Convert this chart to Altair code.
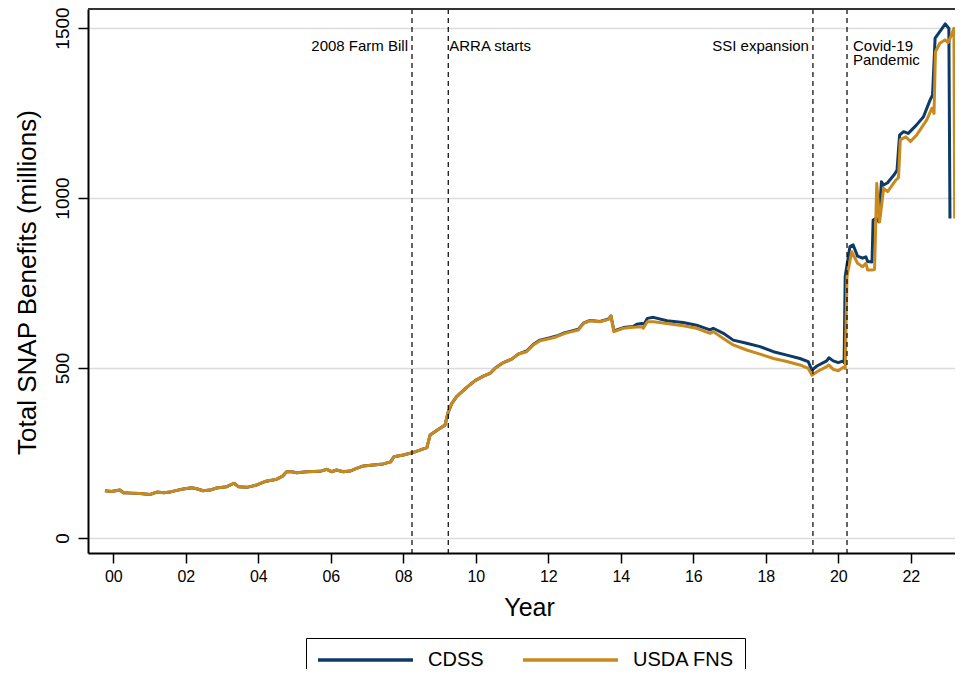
import altair as alt
import pandas as pd

FONT = "Liberation Sans"

# ---- data (year as decimal, SNAP benefits in millions) ----
usda_year = [1999.77, 1999.95, 2000.18, 2000.28, 2000.50, 2000.74, 2001.01, 2001.20, 2001.40, 2001.56,
             2001.75, 2001.93, 2002.16, 2002.30, 2002.48, 2002.67, 2002.85, 2003.13, 2003.33, 2003.45,
             2003.68, 2003.96, 2004.18, 2004.51, 2004.67, 2004.78, 2004.92, 2005.06, 2005.34, 2005.70,
             2005.89, 2006.02, 2006.16, 2006.34, 2006.53, 2006.71, 2006.90, 2007.17, 2007.45, 2007.65,
             2007.74, 2008.00, 2008.28, 2008.65, 2008.74, 2008.97, 2009.15, 2009.24, 2009.34, 2009.47,
             2009.75, 2009.98, 2010.21, 2010.39, 2010.53, 2010.76, 2010.99, 2011.17, 2011.40, 2011.59,
             2011.77, 2012.05, 2012.23, 2012.46, 2012.65, 2012.83, 2012.97, 2013.15, 2013.43, 2013.66,
             2013.73, 2013.81, 2014.07, 2014.34, 2014.58, 2014.62, 2014.73, 2014.90, 2015.27, 2015.72,
             2016.09, 2016.46, 2016.55, 2016.83, 2017.10, 2017.47, 2017.84, 2018.21, 2018.58, 2018.94,
             2019.17, 2019.27, 2019.41, 2019.68, 2019.74, 2019.86, 2020.00, 2020.14, 2020.19, 2020.24,
             2020.37, 2020.53, 2020.67, 2020.76, 2020.81, 2020.93, 2021.00, 2021.06, 2021.14, 2021.25,
             2021.36, 2021.59, 2021.66, 2021.71, 2021.86, 2021.99, 2022.16, 2022.44, 2022.58, 2022.64,
             2022.68, 2022.80, 2022.94, 2023.03, 2023.12, 2023.19, 2023.21]
usda_val = [139, 137, 141, 133, 132, 131, 128, 135, 133, 135,
            140, 144, 148, 145, 139, 141, 147, 151, 161, 151,
            149, 156, 166, 173, 182, 195, 195, 192, 195, 196,
            202, 195, 200, 195, 197, 205, 212, 215, 218, 224,
            239, 244, 252, 266, 303, 320, 332, 371, 396, 416,
            443, 463, 476, 484, 499, 516, 526, 541, 548, 568,
            580, 587, 592, 602, 607, 612, 631, 639, 636, 643,
            653, 607, 617, 620, 621, 617, 636, 636, 631, 624,
            617, 602, 607, 587, 568, 553, 541, 528, 519, 509,
            499, 479, 489, 504, 509, 496, 492, 502, 499, 769,
            842, 808, 798, 808, 788, 788, 790, 1043, 930, 1028,
            1019, 1053, 1060, 1171, 1180, 1166, 1185, 1230, 1264, 1249,
            1430, 1455, 1465, 1457, 1479, 1499, 940]

cdss_year = [1999.77, 1999.95, 2000.18, 2000.28, 2000.50, 2000.74, 2001.01, 2001.20, 2001.40, 2001.56,
             2001.75, 2001.93, 2002.16, 2002.30, 2002.48, 2002.67, 2002.85, 2003.13, 2003.33, 2003.45,
             2003.68, 2003.96, 2004.18, 2004.51, 2004.67, 2004.78, 2004.92, 2005.06, 2005.34, 2005.70,
             2005.89, 2006.02, 2006.16, 2006.34, 2006.53, 2006.71, 2006.90, 2007.17, 2007.45, 2007.65,
             2007.74, 2008.00, 2008.28, 2008.65, 2008.74, 2008.97, 2009.15, 2009.24, 2009.34, 2009.47,
             2009.75, 2009.98, 2010.21, 2010.39, 2010.53, 2010.76, 2010.99, 2011.17, 2011.40, 2011.59,
             2011.77, 2012.05, 2012.23, 2012.46, 2012.65, 2012.83, 2012.97, 2013.15, 2013.43, 2013.66,
             2013.73, 2013.81, 2014.07, 2014.34, 2014.44, 2014.58, 2014.64, 2014.73, 2014.90, 2015.27,
             2015.72, 2016.09, 2016.46, 2016.55, 2016.83, 2017.10, 2017.47, 2017.84, 2018.21, 2018.58,
             2018.94, 2019.17, 2019.27, 2019.41, 2019.68, 2019.74, 2019.86, 2020.00, 2020.14, 2020.16,
             2020.19, 2020.32, 2020.41, 2020.53, 2020.67, 2020.76, 2020.81, 2020.93, 2020.96, 2021.04,
             2021.12, 2021.19, 2021.25, 2021.36, 2021.55, 2021.62, 2021.69, 2021.80, 2021.93, 2022.16,
             2022.35, 2022.53, 2022.60, 2022.67, 2022.83, 2022.95, 2023.05, 2023.08]
cdss_val = [139, 137, 141, 133, 132, 131, 128, 135, 133, 135,
            140, 144, 148, 145, 139, 141, 147, 151, 161, 151,
            149, 156, 166, 173, 182, 195, 195, 192, 195, 196,
            202, 195, 200, 195, 197, 205, 212, 215, 218, 224,
            239, 244, 252, 266, 303, 320, 332, 371, 396, 416,
            443, 463, 476, 484, 499, 516, 526, 541, 550, 570,
            582, 589, 594, 604, 609, 614, 632, 640, 637, 644,
            653, 609, 619, 622, 629, 631, 629, 646, 649, 639,
            634, 626, 612, 617, 602, 582, 573, 563, 548, 538,
            528, 519, 494, 506, 521, 530, 521, 516, 521, 516,
            769, 857, 862, 829, 823, 827, 813, 812, 935, 940,
            930, 1048, 1038, 1045, 1070, 1082, 1185, 1195, 1190, 1215,
            1239, 1288, 1303, 1470, 1494, 1512, 1499, 940]

event_year = [2008.24, 2009.24, 2019.30, 2020.24]
event_label = ["2008 Farm Bill", "ARRA starts", "SSI expansion", "Covid-19\nPandemic"]

series_names = ["CDSS", "USDA FNS"]
series_colors = ["#0d3a67", "#c9891c"]

x_ticks = list(range(2000, 2023, 2))
y_ticks = [0, 500, 1000, 1500]

# ---- tables ----
df = pd.concat([
    pd.DataFrame({"year": cdss_year, "value": cdss_val, "series": "CDSS"}),
    pd.DataFrame({"year": usda_year, "value": usda_val, "series": "USDA FNS"}),
], ignore_index=True)
events = pd.DataFrame({"year": event_year, "label": event_label})

W, H = 867, 544

x_scale = alt.Scale(domain=[1999.302, 2023.219], nice=False, zero=False)
y_scale = alt.Scale(domain=[-44.1, 1555.9], nice=False, zero=False)

x_axis = alt.Axis(
    values=x_ticks,
    labelExpr="(datum.value - 2000 < 10 ? '0' : '') + (datum.value - 2000)",
    title="Year", titleFontSize=25, titleFontWeight="normal", titleColor="black",
    titleX=441, titleY=62, titleBaseline="alphabetic", titleAlign="center",
    labelFontSize=16, labelColor="black", labelPadding=5,
    tickSize=10, tickWidth=1.5, tickColor="black",
    domainColor="black", domainWidth=2, grid=False,
)
y_axis = alt.Axis(
    values=y_ticks, format="d",
    title="Total SNAP Benefits (millions)", titleFontSize=26, titleFontWeight="normal",
    titleColor="black", titleAngle=-90, titleX=-53, titleY=273, titleAlign="center",
    titleBaseline="alphabetic",
    labelFontSize=19, labelColor="black", labelAngle=-90, labelAlign="center",
    labelBaseline="alphabetic", labelPadding=10,
    tickSize=10, tickWidth=1.5, tickColor="black",
    domainColor="black", domainWidth=2,
    grid=True, gridColor="#dcdcdc", gridWidth=1.5,
)

color_enc = alt.Color(
    "series:N",
    scale=alt.Scale(domain=series_names, range=series_colors),
    legend=alt.Legend(
        title=None, orient="none", legendX=218, legendY=629, direction="horizontal",
        symbolType="stroke", symbolSize=9025, symbolStrokeWidth=3.5,
        labelFontSize=20, labelColor="black", labelOffset=13, columnPadding=37,
        clipHeight=24, padding=10, strokeColor="black", fillColor="white", cornerRadius=0,
    ),
)

base = alt.Chart(df)
line_cdss = base.transform_filter(alt.datum.series == "CDSS").mark_line(
    strokeWidth=3, strokeJoin="round").encode(
    x=alt.X("year:Q", scale=x_scale, axis=x_axis),
    y=alt.Y("value:Q", scale=y_scale, axis=y_axis),
    color=color_enc,
)
line_usda = base.transform_filter(alt.datum.series == "USDA FNS").mark_line(
    strokeWidth=3, strokeJoin="round").encode(
    x=alt.X("year:Q", scale=x_scale),
    y=alt.Y("value:Q", scale=y_scale),
    color=color_enc,
)

ev = alt.Chart(events)
vlines = ev.mark_rule(color="black", strokeWidth=1.2, strokeDash=[5, 4]).encode(
    x=alt.X("year:Q", scale=x_scale))

def event_text(label, align, dx):
    return ev.transform_filter(alt.datum.label == label).mark_text(
        align=align, baseline="alphabetic", dx=dx, fontSize=15, font=FONT, color="black",
        lineBreak="\n", lineHeight=14.5,
    ).encode(x=alt.X("year:Q", scale=x_scale), y=alt.value(41.7), text="label:N")

t1 = event_text("2008 Farm Bill", "right", -4)
t2 = event_text("ARRA starts", "left", 1)
t3 = event_text("SSI expansion", "right", -4)
t4 = event_text("Covid-19\nPandemic", "left", 6)

top_border = alt.Chart(events).mark_rule(color="#333333", strokeWidth=2).encode(
    x=alt.value(0), x2=alt.value(W + 10), y=alt.value(0))

chart = alt.layer(
    line_cdss, line_usda, vlines, t1, t2, t3, t4, top_border
).resolve_scale(color="shared").properties(
    width=W, height=H,
    padding={"left": 80, "top": 1, "right": 0, "bottom": 116},
    autosize=alt.AutoSizeParams(type="none"),
    background="white",
).configure_view(stroke=None).configure_axis(
    labelFont=FONT, titleFont=FONT
).configure_legend(labelFont=FONT).configure_text(font=FONT)

chart.save("out.html", embed_options={"renderer": "svg", "actions": False})
